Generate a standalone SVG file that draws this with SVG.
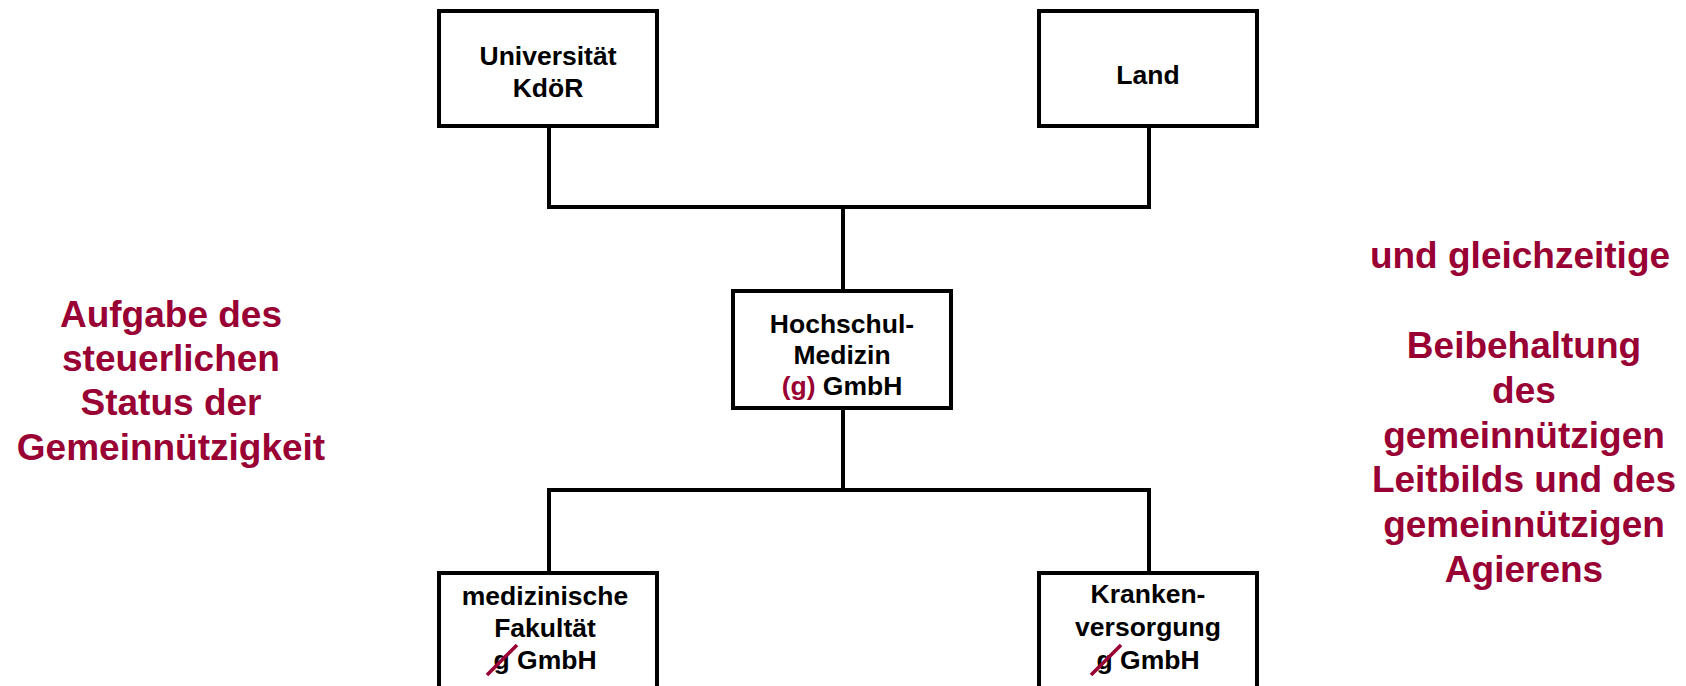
<svg xmlns="http://www.w3.org/2000/svg" width="1686" height="686" viewBox="0 0 1686 686">
  <style>
    .box { fill: #ffffff; stroke: #000000; stroke-width: 4; }
    .wire { fill: none; stroke: #000000; stroke-width: 4; stroke-linecap: square; }
    .lbl { font-family: "Liberation Sans", Arial, sans-serif; font-weight: bold; font-size: 26.5px; fill: #000000; text-anchor: middle; }
    .note { font-family: "Liberation Sans", Arial, sans-serif; font-weight: bold; font-size: 37px; fill: #990033; text-anchor: middle; }
    .red { fill: #990033; }
    .strike { stroke: #990033; stroke-width: 3.5; stroke-linecap: butt; }
  </style>
  <rect width="1686" height="686" fill="#ffffff"/>

  <!-- connectors -->
  <g id="connectors">
    <path class="wire" d="M549 126 V207 H1149 V126"/>
    <path class="wire" d="M843 207 V290"/>
    <path class="wire" d="M843 408 V490"/>
    <path class="wire" d="M549 572 V490 H1149 V572"/>
  </g>

  <g id="universitaet">
    <rect class="box" x="439" y="11" width="218" height="115"/>
    <text class="lbl" x="548" y="65">Universität</text>
    <text class="lbl" x="548" y="97">KdöR</text>
  </g>

  <g id="land">
    <rect class="box" x="1039" y="11" width="218" height="115"/>
    <text class="lbl" x="1148" y="84">Land</text>
  </g>

  <g id="hochschulmedizin">
    <rect class="box" x="733" y="291" width="218" height="117"/>
    <text class="lbl" x="842" y="333">Hochschul-</text>
    <text class="lbl" x="842" y="364">Medizin</text>
    <text class="lbl" x="842" y="395"><tspan class="red">(g)</tspan> GmbH</text>
  </g>

  <g id="fakultaet">
    <rect class="box" x="439" y="573" width="218" height="130"/>
    <text class="lbl" x="545" y="605">medizinische</text>
    <text class="lbl" x="545" y="637">Fakultät</text>
    <text class="lbl" x="545" y="669">g GmbH</text>
    <line class="strike" x1="487" y1="675" x2="517" y2="645"/>
  </g>

  <g id="krankenversorgung">
    <rect class="box" x="1039" y="573" width="218" height="130"/>
    <text class="lbl" x="1148" y="603">Kranken-</text>
    <text class="lbl" x="1148" y="636">versorgung</text>
    <text class="lbl" x="1148" y="669">g GmbH</text>
    <line class="strike" x1="1091" y1="675" x2="1121" y2="645"/>
  </g>

  <g id="note-left">
    <text class="note" x="171" y="327">Aufgabe des</text>
    <text class="note" x="171" y="371">steuerlichen</text>
    <text class="note" x="171" y="415">Status der</text>
    <text class="note" x="171" y="460">Gemeinnützigkeit</text>
  </g>

  <g id="note-right">
    <text class="note" x="1520" y="268">und gleichzeitige</text>
    <text class="note" x="1524" y="358">Beibehaltung</text>
    <text class="note" x="1524" y="403">des</text>
    <text class="note" x="1524" y="448">gemeinnützigen</text>
    <text class="note" x="1524" y="492">Leitbilds und des</text>
    <text class="note" x="1524" y="537">gemeinnützigen</text>
    <text class="note" x="1524" y="582">Agierens</text>
  </g>
</svg>
